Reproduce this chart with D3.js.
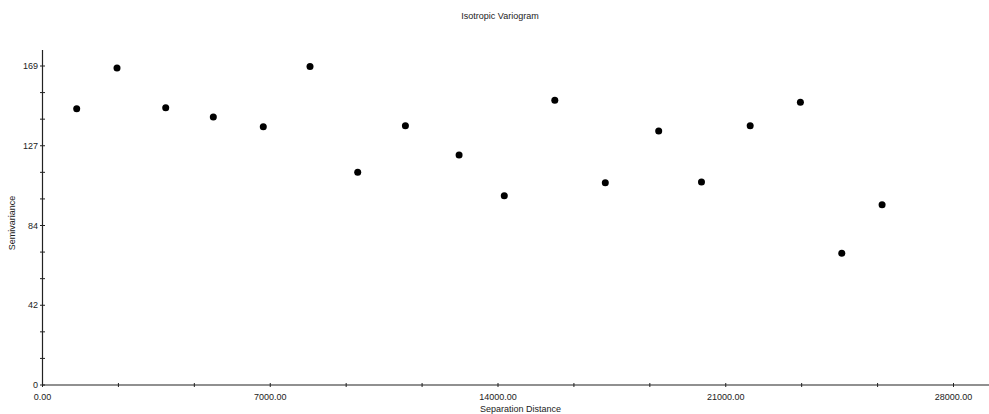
<!DOCTYPE html>
<html><head><meta charset="utf-8">
<script src="https://cdn.jsdelivr.net/npm/d3@7"></script>
<style>body{margin:0;background:#fff}svg{display:block}text{font-family:"Liberation Sans",Arial,sans-serif}</style>
</head><body><svg id="c" width="989" height="414"></svg>
<script>
const title = "Isotropic Variogram";
const xLabel = "Separation Distance";
const yLabel = "Semivariance";
const distances = [1051,2290,3787,5250,6786,8222,9688,11154,12804,14193,15746,17298,18939,20254,21751,23294,24566,25805];
const semivariance = [146.4,167.9,146.9,142.0,136.8,168.8,112.7,137.4,121.8,100.3,150.8,107.2,134.6,107.5,137.4,149.8,69.8,95.5];
const xTickLabels = ["0.00","7000.00","14000.00","21000.00","28000.00"];
const yTickLabels = ["0","42","84","127","169"];

const svg = d3.select("#c");
const x = d3.scaleLinear().domain([0,28000]).range([42.5,953.5]);
const y = d3.scaleLinear().domain([0,169]).range([385,66]);
const ink = "#222";
const txt = "#222";

// axis lines
svg.append("line").attr("x1",x(0)).attr("x2",989).attr("y1",y(0)).attr("y2",y(0)).attr("stroke",ink).attr("stroke-width",1.2);
svg.append("line").attr("x1",x(0)).attr("x2",x(0)).attr("y1",50).attr("y2",y(0)).attr("stroke",ink).attr("stroke-width",1.2);

// x ticks
const xMinor = d3.range(0,13).map(i=>i*28000/12);
svg.selectAll(".xt").data(xMinor).enter().append("line")
  .attr("x1",d=>x(d)).attr("x2",d=>x(d)).attr("y1",y(0)-2).attr("y2",y(0)+2)
  .attr("stroke",ink).attr("stroke-width",1);
svg.selectAll(".xl").data(xTickLabels).enter().append("text")
  .attr("x",(d,i)=>x(i*7000)).attr("y",400).attr("text-anchor","middle")
  .attr("font-size",9).attr("fill",txt).text(d=>d);

// y ticks
const yMinor = d3.range(0,13).map(i=>i*169/12);
svg.selectAll(".yt").data(yMinor).enter().append("line")
  .attr("x1",x(0)-2.5).attr("x2",x(0)+2.5).attr("y1",d=>y(d)).attr("y2",d=>y(d))
  .attr("stroke",ink).attr("stroke-width",1);
svg.selectAll(".yl").data(yTickLabels).enter().append("text")
  .attr("x",38).attr("y",(d,i)=>y(i*169/4)).attr("dy","0.35em").attr("text-anchor","end")
  .attr("font-size",9).attr("fill",txt).text(d=>d);

// labels
svg.append("text").attr("x",500).attr("y",19).attr("text-anchor","middle").attr("font-size",9).attr("fill",txt).text(title);
svg.append("text").attr("x",520.5).attr("y",411.5).attr("text-anchor","middle").attr("font-size",9).attr("fill",txt).text(xLabel);
svg.append("text").attr("transform","translate(15,223) rotate(-90)").attr("text-anchor","middle").attr("font-size",9).attr("fill",txt).text(yLabel);

// points
svg.selectAll(".p").data(distances).enter().append("circle")
  .attr("cx",d=>x(d)).attr("cy",(d,i)=>y(semivariance[i])).attr("r",3.5).attr("fill","#000");
</script></body></html>
